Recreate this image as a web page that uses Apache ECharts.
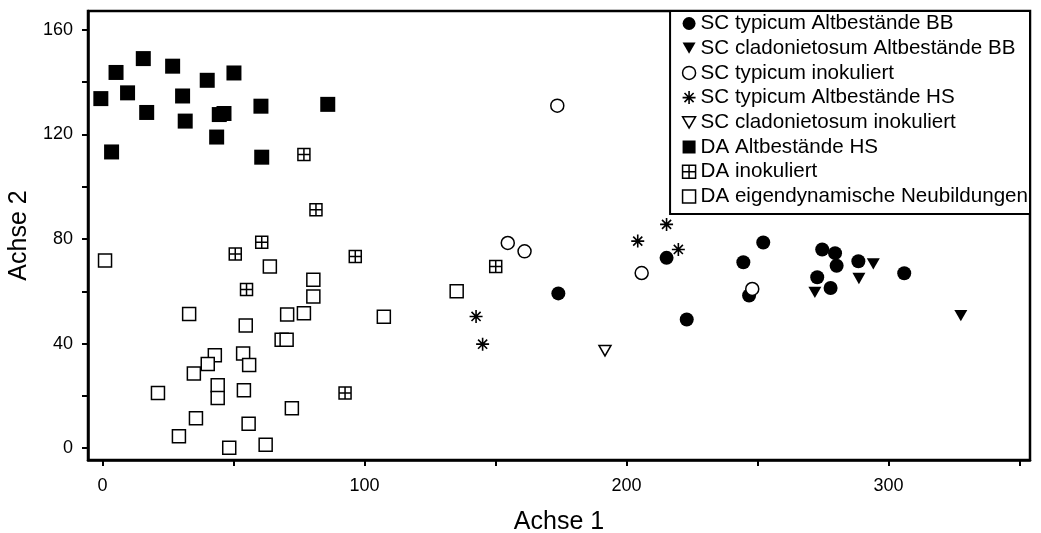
<!DOCTYPE html>
<html>
<head>
<meta charset="utf-8">
<script src="https://cdn.jsdelivr.net/npm/echarts@6/dist/echarts.min.js"></script>
<style>
  html, body { margin: 0; padding: 0; background: #fff; }
  #chart { width: 1041px; height: 533px; }
</style>
</head>
<body>
<div id="chart"></div>
<script>
// series names (legend order)
const seriesNames = [
  'SC typicum Altbestände BB',
  'SC cladonietosum Altbestände BB',
  'SC typicum inokuliert',
  'SC typicum Altbestände HS',
  'SC cladonietosum inokuliert',
  'DA Altbestände HS',
  'DA inokuliert',
  'DA eigendynamische Neubildungen'
]

// [Achse 1, Achse 2]
const scTypicumBB = [
  [174.0, 59.2], [215.3, 72.8], [223.0, 49.2], [244.6, 71.1], [252.2, 78.7],
  [246.8, 58.4], [274.7, 76.0], [279.6, 74.6], [280.2, 69.8], [272.8, 65.4],
  [277.9, 61.3], [288.5, 71.5], [306.0, 66.9]
]
const scCladoBB = [[294.2, 70.5], [288.7, 64.9], [271.9, 59.6], [327.6, 50.7]]
const scTypicumInok = [[173.6, 131.0], [154.7, 78.5], [161.1, 75.3], [205.8, 67.0], [248.0, 60.9]]
const scTypicumHS = [[142.6, 50.4], [145.1, 39.8], [204.3, 79.2], [215.3, 85.6], [219.8, 76.0]]
const scCladoInok = [[191.8, 37.3]]
const daAltHS = [
  [-0.6, 133.7], [5.2, 143.7], [3.5, 113.3], [9.6, 135.9], [15.6, 149.0],
  [16.9, 128.4], [26.8, 146.1], [30.6, 134.7], [31.6, 125.1], [40.0, 140.7],
  [43.6, 119.0], [44.6, 127.6], [46.4, 128.0], [50.2, 143.5], [60.5, 130.8],
  [60.8, 111.3], [86.0, 131.5]
]
const daInok = [
  [81.5, 91.2], [50.7, 74.3], [60.8, 78.8], [55.0, 60.7], [96.5, 73.3],
  [92.6, 21.1], [76.9, 112.3], [150.1, 69.5]
]
const daNeu = [
  [1.0, 71.8], [33.1, 51.3], [54.7, 46.9], [63.9, 69.5], [80.5, 64.4],
  [80.5, 58.0], [70.5, 51.1], [76.9, 51.6], [107.4, 50.3], [68.4, 41.5],
  [70.3, 41.5], [42.9, 35.6], [40.2, 32.2], [53.7, 36.2], [56.0, 31.8],
  [34.9, 28.6], [21.2, 21.1], [44.0, 24.1], [44.0, 19.2], [54.0, 22.2],
  [72.3, 15.3], [35.7, 11.5], [29.2, 4.6], [55.8, 9.4], [48.4, 0.2],
  [62.3, 1.3], [135.2, 60.0]
]

const xTicks = [0, 50, 100, 150, 200, 250, 300, 350]
const xLabels = [0, 100, 200, 300]
const yTicks = [0, 20, 40, 60, 80, 100, 120, 140, 160]
const yLabels = [0, 40, 80, 120, 160]

const FONT = 'Liberation Sans, Arial, sans-serif'
const triDown = 'path://M0 0 L10 0 L5 8.7 Z'
const star = 'path://M5 0 L5 10 M0 5 L10 5 M1.5 1.5 L8.5 8.5 M8.5 1.5 L1.5 8.5'
const gridSq = 'path://M0 0 L10 0 L10 10 L0 10 Z M5 0 L5 10 M0 5 L10 5'

const filled = { color: '#000', borderColor: '#000', borderWidth: 0, opacity: 1 }
const hollow = { color: '#fff', borderColor: '#000', borderWidth: 1.5, opacity: 1 }
const lines = { color: 'none', borderColor: '#000', borderWidth: 1.6, opacity: 1 }

// symbol, size, style for each series
const marks = [
  { symbol: 'circle', size: 14, style: filled },
  { symbol: triDown, size: 13, style: filled },
  { symbol: 'circle', size: 13, style: hollow },
  { symbol: star, size: 13, style: lines },
  { symbol: triDown, size: 12, style: hollow },
  { symbol: 'rect', size: 15, style: filled },
  { symbol: gridSq, size: 12, style: hollow },
  { symbol: 'rect', size: 13, style: hollow }
]
const allData = [scTypicumBB, scCladoBB, scTypicumInok, scTypicumHS, scCladoInok, daAltHS, daInok, daNeu]

const chart = echarts.init(document.getElementById('chart'))

const series = seriesNames.map((name, i) => ({
  name,
  type: 'scatter',
  data: allData[i],
  symbol: marks[i].symbol,
  symbolSize: marks[i].size,
  symbolKeepAspect: true,
  itemStyle: marks[i].style,
  emphasis: { disabled: true }
}))

const option = {
  animation: false,
  backgroundColor: '#fff',
  textStyle: { fontFamily: FONT },
  grid: {
    left: 88, right: 11, top: 11, bottom: 73,
    outerBoundsMode: 'none',
    containLabel: false,
    show: true,
    borderColor: '#000',
    borderWidth: 2.5
  },
  legend: {
    orient: 'vertical',
    right: 11,
    top: 11,
    padding: [2, 2, 7, 10],
    itemWidth: 13,
    itemHeight: 13,
    itemGap: 3.7,
    borderColor: '#000',
    borderWidth: 2,
    backgroundColor: '#fff',
    textStyle: { fontSize: 20.6, lineHeight: 20, color: '#000', fontFamily: FONT },
    data: seriesNames.map((name, i) => ({
      name,
      icon: marks[i].symbol,
      itemStyle: marks[i].style
    })),
    selectedMode: false
  },
  xAxis: {
    type: 'value',
    min: -5.5,
    max: 354,
    name: 'Achse 1',
    nameLocation: 'middle',
    nameGap: 50,
    nameTextStyle: { fontSize: 25, color: '#000', fontFamily: FONT },
    axisLine: { onZero: false, lineStyle: { color: '#000', width: 2.5 } },
    axisTick: { show: true, length: 6, lineStyle: { color: '#000', width: 2 }, customValues: xTicks },
    axisLabel: { fontSize: 18, color: '#000', margin: 17, customValues: xLabels },
    splitLine: { show: false }
  },
  yAxis: {
    type: 'value',
    min: -4.5,
    max: 167.2,
    name: 'Achse 2',
    nameLocation: 'middle',
    nameGap: 51,
    nameRotate: 90,
    nameTextStyle: { fontSize: 25, color: '#000', fontFamily: FONT },
    axisLine: { onZero: false, lineStyle: { color: '#000', width: 2.5 } },
    axisTick: { show: true, length: 6, lineStyle: { color: '#000', width: 2 }, customValues: yTicks },
    axisLabel: { fontSize: 18, color: '#000', margin: 15, customValues: yLabels },
    splitLine: { show: false }
  },
  series
}

chart.setOption(option)
</script>
</body>
</html>
